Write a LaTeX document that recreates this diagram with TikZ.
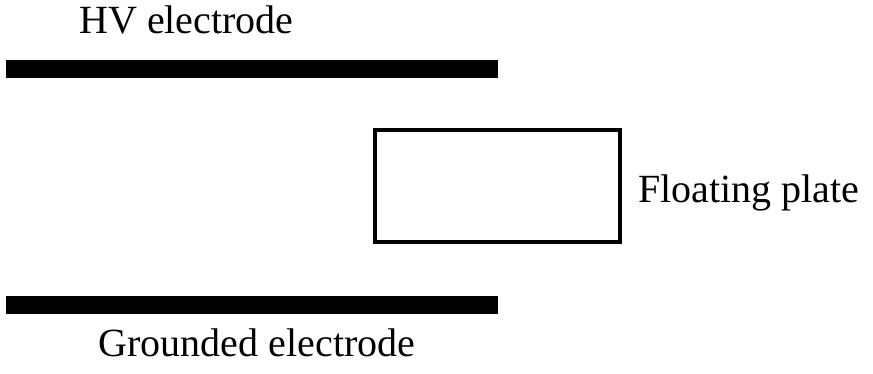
\documentclass[tikz,border=0pt]{standalone}
\usepackage{fontspec}
\setmainfont{Liberation Serif}
\begin{document}
\begin{tikzpicture}[x=1pt,y=-1pt,
  bar/.style={fill=black,draw=none,minimum width=492pt,minimum height=18pt,inner sep=0pt},
  plate/.style={draw=black,line width=4pt,minimum width=245pt,minimum height=112.5pt,inner sep=0pt},
  lbl/.style={font=\fontsize{40}{48}\selectfont,inner sep=0pt,anchor=base}]
\useasboundingbox (0,0) rectangle (873,373);
\node[bar] (hv) at (252,68.5) {};
\node[bar] (gnd) at (252,304.5) {};
\node[plate] (fp) at (497.2,186) {};
\node[lbl] (hvl) at (186.5,33) {HV electrode};
\node[lbl] (gl) at (257,356) {Grounded electrode};
\node[lbl] (fl) at (749,202) {Floating plate};
\end{tikzpicture}
\end{document}
